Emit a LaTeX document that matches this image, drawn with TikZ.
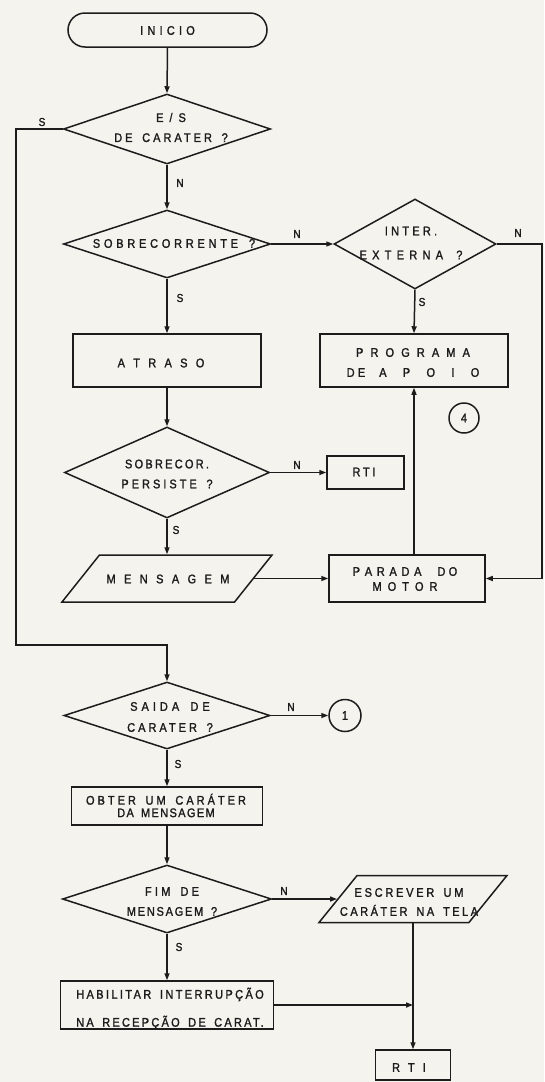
\documentclass[tikz,border=0pt]{standalone}
\usepackage{fontspec}
\setmainfont{Liberation Sans}[LetterSpace=26, FakeStretch=0.88, FakeBold=1.5, WordSpace=1.6]
\usetikzlibrary{shapes.geometric,arrows.meta,calc}
\definecolor{ink}{HTML}{1C1C1C}
\definecolor{paper}{HTML}{F5F3EE}
\newcommand\wsp[1]{\spaceskip=#1pt\relax}
\newcommand\lsp[2]{{\addfontfeature{LetterSpace=#1}#2}}
\begin{document}
\begin{tikzpicture}[x=1pt,y=-1pt,
 every node/.style={text=ink},
 tx/.style={align=center, inner sep=0pt, font=\fontsize{12.5}{20}\selectfont},
 shp/.style={draw=ink, line width=1.5pt, inner sep=0pt},
 box/.style={shp, rectangle},
 dia/.style={shp, diamond},
 para/.style={shp, inner sep=2pt, trapezium, trapezium stretches=true},
 conn/.style={shp, circle},
 yn/.style={inner sep=0pt, font=\fontsize{11.5}{12}\selectfont},
 flow/.style={draw=ink, line width=1.5pt, -{Triangle[length=7pt,width=5pt]}}
]
\useasboundingbox (0,0) rectangle (544,1082);
\fill[paper] (0,0) rectangle (544,1082);

% shapes
\node[box, rounded corners=17pt, minimum width=199pt, minimum height=34pt] (ini) at (167.5,30) {};
\node[tx] (ini-t) at (167.5,30.5) {\wsp{4.2}I N I C I O};

\node[dia, minimum width=207pt, minimum height=70pt] (es) at (167,129) {};
\node[tx] (es-t) at (171,127.5) {\lsp{48}{E/S}\\\lsp{24}{DE CARATER ?}};

\node[dia, minimum width=207pt, minimum height=68pt] (sob) at (167,244) {};
\node[tx] (sob-t) at (174,243.5) {\lsp{30}{SOBRECORRENTE ?}};

\node[dia, minimum width=162pt, minimum height=90pt] (inter) at (415,244) {};
\node[tx, font=\fontsize{12.5}{24}\selectfont] (inter-t) at (411,243) {INTER.\\\lsp{42}{EXTERNA ?}};

\node[box, minimum width=188pt, minimum height=53pt] (atr) at (167,360.5) {};
\node[tx] (atr-t) at (161,363) {\wsp{8.3}A T R A S O};

\node[box, minimum width=188pt, minimum height=53pt] (prog) at (414,360.5) {};
\node[tx] (prog-t) at (413,362.5) {{\wsp{7.1}P R O G R A M A}\\DE\hspace{14pt}{\wsp{16.3}A P O I O}};

\node[conn, minimum size=30pt] (c4) at (464,418) {};
\node[tx] (c4-t) at (c4) {4};

\node[dia, minimum width=205pt, minimum height=91pt] (sp) at (167,472.5) {};
\node[tx] (sp-t) at (167,474) {\lsp{18}{SOBRECOR.}\\\lsp{24}{PERSISTE ?}};

\node[box, minimum width=77pt, minimum height=33pt] (rti1) at (365.5,472.5) {};
\node[tx] (rti1-t) at (364,472) {\lsp{22}{RTI}};

\node[para, trapezium left angle=74.5, trapezium right angle=105.5, minimum width=210pt, minimum height=47pt] (msg) at (167,578.5) {};
\node[tx] (msg-t) at (168,579) {\wsp{8.4}M E N S A G E M};

\node[box, minimum width=156pt, minimum height=47pt] (par) at (407,578.5) {};
\node[tx, font=\fontsize{12.5}{15}\selectfont] (par-t) at (405,579) {{\wsp{4.7}P A R A D A}\hspace{16pt}DO\\{\wsp{6}M O T O R}};

\node[dia, minimum width=206pt, minimum height=67pt] (sai) at (167,715.5) {};
\node[tx, font=\fontsize{12.5}{21}\selectfont] (sai-t) at (170,717) {\lsp{32}{SAIDA DE}\\\lsp{24}{CARATER ?}};

\node[conn, minimum size=32pt] (c1) at (345,715.5) {};
\node[tx] (c1-t) at (c1) {1};

\node[box, minimum width=191pt, minimum height=38pt] (obt) at (167,806) {};
\node[tx, font=\fontsize{12.5}{12.5}\selectfont] (obt-t) at (166,805.5) {\lsp{24}{OBTER UM CARÁTER}\\\lsp{11}{DA MENSAGEM}};

\node[dia, minimum width=209pt, minimum height=68pt] (fim) at (167,899) {};
\node[tx] (fim-t) at (172,901.5) {\lsp{26}{FIM DE}\\\lsp{14}{MENSAGEM ?}};

\node[para, trapezium left angle=71.2, trapezium right angle=108.8, minimum width=188pt, minimum height=47pt] (esc) at (413,899) {};
\node[tx, font=\fontsize{12.5}{19}\selectfont] (esc-t) at (409,902) {\lsp{22}{ESCREVER UM}\\\lsp{20}{CARÁTER NA TELA}};

\node[box, minimum width=213pt, minimum height=48pt] (hab) at (167,1005) {};
\node[tx, font=\fontsize{12.5}{28}\selectfont] (hab-t) at (170,1008.5) {\lsp{19}{HABILITAR INTERRUPÇÃO}\\\lsp{18}{NA RECEPÇÃO DE CARAT.}};

\node[box, minimum width=75pt, minimum height=30pt] (rti2) at (413,1065) {};
\node[tx] (rti2-t) at (409,1067.5) {\lsp{65}{RTI}};

% helper coordinates
\coordinate (lx) at (16,645);
\coordinate (rx) at (542,578.5);

% connectors
\draw[flow] (ini.south) -- (es.north);
\draw[flow] (es.south) -- (sob.north);
\draw[flow] (es.west) -| (lx) -| (sai.north);
\draw[flow] (sob.east) -- (inter.west);
\draw[flow] (inter.east) -| (rx) -- (par.east);
\draw[flow] (sob.south) -- (atr.north);
\draw[flow] (inter.south) -- (prog.north);
\draw[flow] (atr.south) -- (sp.north);
\draw[flow] (sp.east) -- (rti1.west);
\draw[flow] (sp.south) -- (sp.south |- msg.north);
\draw[flow] (msg.east) -- (par.west);
\draw[flow] (par.north -| prog.south) -- (prog.south);
\draw[flow] (sai.east) -- (c1.west);
\draw[flow] (sai.south) -- (obt.north);
\draw[flow] (obt.south) -- (fim.north);
\draw[flow] (fim.east) -- (esc.west);
\draw[flow] (fim.south) -- (hab.north);
\draw[flow] (rti2.north |- esc.south) -- (rti2.north);
\draw[flow] (hab.east) -- (hab.east -| rti2.north);

% branch labels
\node[yn] (l1) at (42,122) {S};
\node[yn] (l2) at (180,183) {N};
\node[yn] (l3) at (297,234) {N};
\node[yn] (l4) at (518,233) {N};
\node[yn] (l5) at (180,298) {S};
\node[yn] (l6) at (422,302) {S};
\node[yn] (l7) at (297,465) {N};
\node[yn] (l8) at (176,530) {S};
\node[yn] (l9) at (291,707) {N};
\node[yn] (l10) at (178,764) {S};
\node[yn] (l11) at (284,891) {N};
\node[yn] (l12) at (179,947) {S};
\end{tikzpicture}
\end{document}
